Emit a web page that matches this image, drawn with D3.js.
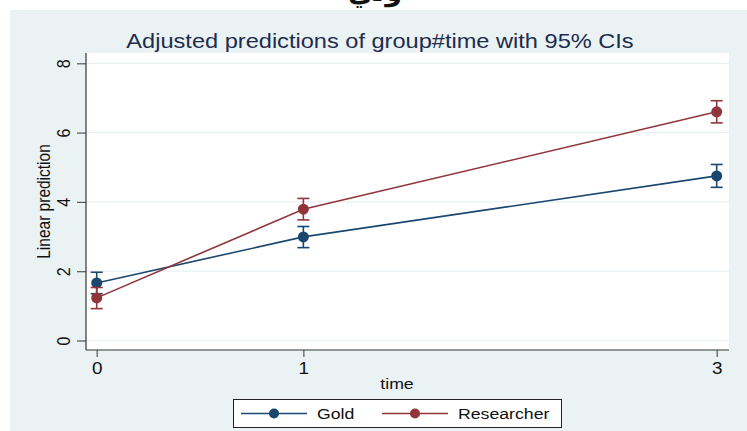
<!DOCTYPE html>
<html>
<head>
<meta charset="utf-8">
<script src="https://cdn.jsdelivr.net/npm/d3@7"></script>
<style>
html,body{margin:0;padding:0;background:#fff;}
svg{display:block;font-family:"Liberation Sans",Arial,sans-serif;}
</style>
</head>
<body>
<svg id="chart" width="747" height="431"></svg>
<script>
const times = [0, 1, 3];
const seriesNames = ["Gold", "Researcher"];
const goldMean = [1.66, 2.99, 4.75];
const goldLo = [1.35, 2.68, 4.42];
const goldHi = [1.97, 3.29, 5.08];
const resMean = [1.23, 3.79, 6.60];
const resLo = [0.92, 3.48, 6.28];
const resHi = [1.53, 4.10, 6.92];
const yTicks = [0, 2, 4, 6, 8];
const xTicks = [0, 1, 3];
const colors = ["#1a476f", "#90353b"];

const SX = 1.18; // horizontal stretch of the reference's text

const series = [
  {name: seriesNames[0], mean: goldMean, lo: goldLo, hi: goldHi, color: colors[0]},
  {name: seriesNames[1], mean: resMean, lo: resLo, hi: resHi, color: colors[1]}
];

const svg = d3.select("#chart");
function stretchedText(parent, x, y, txt, size, anchor, fill, rotate) {
  return parent.append("text")
    .attr("transform", `translate(${x},${y}) scale(${SX},1)` + (rotate ? ` rotate(${rotate})` : ""))
    .attr("text-anchor", anchor || "middle").attr("font-size", size).attr("fill", fill || "#111")
    .text(txt);
}

// top stray text fragment (cropped in the reference)
svg.append("text").attr("x", 375).attr("y", 1).attr("text-anchor", "middle")
  .attr("font-size", 27).attr("font-weight", "bold").attr("fill", "#111")
  .attr("font-family", "'DejaVu Sans',sans-serif").text("ولي");
// outer panel
svg.append("rect").attr("x", 10).attr("y", 10).attr("width", 737).attr("height", 421).attr("fill", "#eaf2f3");

const plot = {left: 86, right: 729, top: 53, bottom: 350};
svg.append("rect").attr("x", plot.left).attr("y", plot.top)
  .attr("width", plot.right - plot.left).attr("height", plot.bottom - plot.top).attr("fill", "#fff");

const x = d3.scaleLinear().domain([0, 3]).range([96.7, 716.7]);
const y = d3.scaleLinear().domain([0, 8]).range([340.5, 63.3]);

// gridlines
svg.append("g").selectAll("line").data(yTicks).join("line")
  .attr("x1", plot.left).attr("x2", plot.right)
  .attr("y1", d => y(d)).attr("y2", d => y(d))
  .attr("stroke", "#eaf2f3").attr("stroke-width", 1.2);

// y axis
const yAxis = svg.append("g").attr("transform", `translate(${plot.left},0)`)
  .call(d3.axisLeft(y).tickValues(yTicks).tickSize(9).tickFormat(d3.format("d")));
yAxis.select(".domain").remove();
yAxis.append("line").attr("x1", 0).attr("x2", 0).attr("y1", plot.top).attr("y2", plot.bottom)
  .attr("stroke", "#333").attr("stroke-width", 1.2);
yAxis.selectAll(".tick line").attr("stroke", "#555").attr("stroke-width", 1.2);
yAxis.selectAll(".tick text").remove();
yAxis.selectAll(".tick").each(function(d){
  stretchedText(d3.select(this), -16, 0, d3.format("d")(d), 16, "middle", "#111", -90);
});

// x axis
const xAxis = svg.append("g").attr("transform", `translate(0,${plot.bottom})`)
  .call(d3.axisBottom(x).tickValues(xTicks).tickSize(7).tickFormat(d3.format("d")));
xAxis.select(".domain").remove();
xAxis.append("line").attr("x1", plot.left).attr("x2", plot.right).attr("y1", 0).attr("y2", 0)
  .attr("stroke", "#333").attr("stroke-width", 1.2);
xAxis.selectAll(".tick line").attr("stroke", "#555").attr("stroke-width", 1.2);
xAxis.selectAll(".tick text").remove();
xAxis.selectAll(".tick").each(function(d){
  stretchedText(d3.select(this), 0, 24, d3.format("d")(d), 16, "middle", "#111");
});

// axis titles
stretchedText(svg, 397, 389, "time", 15);
stretchedText(svg, 50, (plot.top + plot.bottom) / 2, "Linear prediction", 15.5, "middle", "#111", -90);

// title
stretchedText(svg, 380, 48, "Adjusted predictions of group#time with 95% CIs", 20, "middle", "#1e2c4e");

// series
const line = d3.line().x(d => x(d.t)).y(d => y(d.v));
series.forEach(s => {
  const pts = times.map((t, i) => ({t, v: s.mean[i], lo: s.lo[i], hi: s.hi[i]}));
  const g = svg.append("g");
  g.append("path").datum(pts).attr("d", line).attr("fill", "none")
    .attr("stroke", s.color).attr("stroke-width", 1.6);
  const eb = g.selectAll(".eb").data(pts).join("g");
  eb.append("line").attr("x1", d => x(d.t)).attr("x2", d => x(d.t))
    .attr("y1", d => y(d.lo)).attr("y2", d => y(d.hi)).attr("stroke", s.color).attr("stroke-width", 1.6);
  eb.append("line").attr("x1", d => x(d.t) - 6).attr("x2", d => x(d.t) + 6)
    .attr("y1", d => y(d.lo)).attr("y2", d => y(d.lo)).attr("stroke", s.color).attr("stroke-width", 1.6);
  eb.append("line").attr("x1", d => x(d.t) - 6).attr("x2", d => x(d.t) + 6)
    .attr("y1", d => y(d.hi)).attr("y2", d => y(d.hi)).attr("stroke", s.color).attr("stroke-width", 1.6);
  eb.append("circle").attr("cx", d => x(d.t)).attr("cy", d => y(d.v)).attr("r", 5.5).attr("fill", s.color);
});

// legend
const lg = svg.append("g");
lg.append("rect").attr("x", 233.5).attr("y", 399.5).attr("width", 328).attr("height", 28)
  .attr("fill", "#fff").attr("stroke", "#222").attr("stroke-width", 1);
const legendX = [241, 382];
series.forEach((s, i) => {
  const lx = legendX[i];
  lg.append("line").attr("x1", lx).attr("x2", lx + 66).attr("y1", 413.5).attr("y2", 413.5)
    .attr("stroke", s.color).attr("stroke-width", 1.6);
  lg.append("circle").attr("cx", lx + 33).attr("cy", 413.5).attr("r", 5).attr("fill", s.color);
  stretchedText(lg, lx + 76, 419, s.name, 15, "start");
});
</script>
</body>
</html>
